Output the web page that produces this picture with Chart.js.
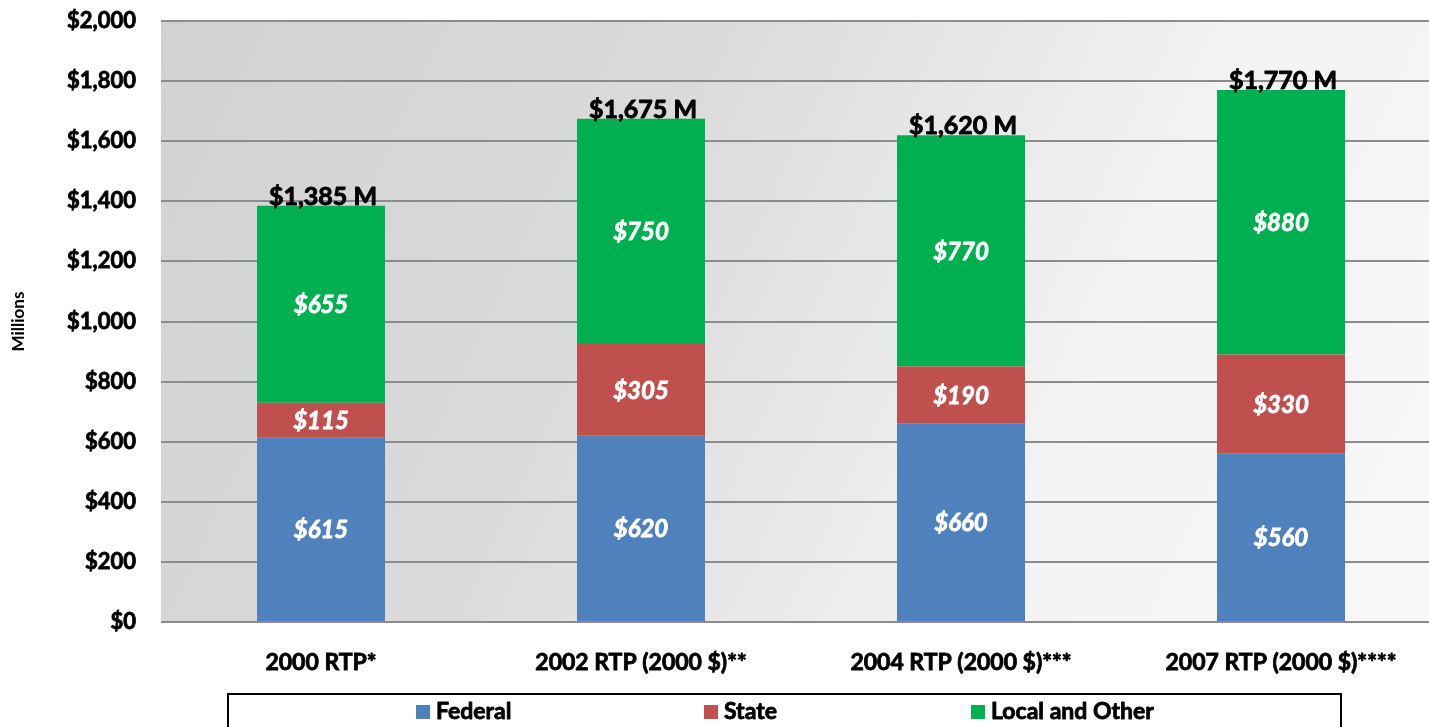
<!DOCTYPE html>
<html>
<head>
<meta charset="utf-8">
<script src="https://cdn.jsdelivr.net/npm/chart.js@4/dist/chart.umd.min.js"></script>
<style>
  html, body { margin: 0; padding: 0; overflow: hidden; background: #ffffff; }
  #wrap { position: relative; width: 1441px; height: 727px; }
</style>
</head>
<body>
<div id="wrap"><canvas id="c"></canvas></div>
<script>
const categories = ["2000 RTP*", "2002 RTP (2000 $)**", "2004 RTP (2000 $)***", "2007 RTP (2000 $)****"];
const federal = [615, 620, 660, 560];
const state = [115, 305, 190, 330];
const localOther = [655, 750, 770, 880];
const seriesNames = ["Federal", "State", "Local and Other"];
const seriesColors = ["#4f81bd", "#c0504d", "#00b050"];
const yTickValues = [0, 200, 400, 600, 800, 1000, 1200, 1400, 1600, 1800, 2000];

const FONT = "Lato, 'Open Sans', sans-serif";
const fmt = v => '$' + v.toLocaleString('en-US');

function heavyText(ctx, text, x, y, color, sw) {
  ctx.fillStyle = color;
  ctx.strokeStyle = color;
  ctx.lineWidth = sw;
  ctx.lineJoin = 'round';
  ctx.strokeText(text, x, y);
  ctx.fillText(text, x, y);
}

const bgPlugin = {
  id: 'bgPlugin',
  beforeDraw(chart) {
    const {ctx, chartArea: a} = chart;
    const g = ctx.createLinearGradient(a.left, a.top, a.right, a.bottom);
    g.addColorStop(0, '#d2d2d2');
    g.addColorStop(0.35, '#dadada');
    g.addColorStop(0.7, '#f3f3f3');
    g.addColorStop(1, '#f8f8f8');
    ctx.save();
    ctx.fillStyle = g;
    ctx.fillRect(a.left, a.top, a.right - a.left, a.bottom - a.top);
    ctx.restore();
  }
};

const labelPlugin = {
  id: 'labelPlugin',
  afterDatasetsDraw(chart) {
    const ctx = chart.ctx;
    ctx.save();
    ctx.textAlign = 'center';
    chart.data.datasets.forEach((ds, di) => {
      const meta = chart.getDatasetMeta(di);
      meta.data.forEach((el, i) => {
        ctx.font = "italic bold 24px " + FONT;
        ctx.textBaseline = 'middle';
        heavyText(ctx, fmt(ds.data[i]), el.x, (el.y + el.base) / 2 + 1, '#ffffff', 0.8);
      });
    });
    const last = chart.getDatasetMeta(chart.data.datasets.length - 1);
    last.data.forEach((el, i) => {
      const total = chart.data.datasets.reduce((s, ds) => s + ds.data[i], 0);
      ctx.font = "bold 25px " + FONT;
      ctx.textBaseline = 'alphabetic';
      heavyText(ctx, fmt(total) + ' M', el.x + 2, el.y - 1, '#000000', 0.9);
    });
    ctx.restore();
  }
};

const legendPlugin = {
  id: 'legendPlugin',
  afterDraw(chart) {
    const ctx = chart.ctx;
    ctx.save();
    ctx.strokeStyle = '#000000';
    ctx.lineWidth = 2;
    ctx.strokeRect(228, 694, 1341 - 228, 60);
    const xs = [416, 704, 971];
    ctx.font = "bold 23px " + FONT;
    ctx.textBaseline = 'middle';
    ctx.textAlign = 'left';
    chart.data.datasets.forEach((ds, i) => {
      ctx.fillStyle = ds.backgroundColor;
      ctx.fillRect(xs[i], 705, 14, 14);
      heavyText(ctx, ds.label, xs[i] + 20, 712, '#000000', 0.8);
    });
    ctx.restore();
  }
};

new Chart(document.getElementById('c'), {
  type: 'bar',
  data: {
    labels: categories,
    datasets: [
      { label: seriesNames[0], data: federal, backgroundColor: seriesColors[0] },
      { label: seriesNames[1], data: state, backgroundColor: seriesColors[1] },
      { label: seriesNames[2], data: localOther, backgroundColor: seriesColors[2] }
    ]
  },
  options: {
    responsive: true,
    maintainAspectRatio: false,
    animation: false,
    layout: { padding: { top: 21, right: 0, left: 0, bottom: 0 } },
    datasets: { bar: { categoryPercentage: 1.0, barPercentage: 0.4 } },
    plugins: { legend: { display: false }, tooltip: { enabled: false } },
    scales: {
      x: {
        stacked: true,
        grid: { display: false, drawTicks: false },
        border: { display: false },
        ticks: { color: '#000', font: { family: FONT, weight: 'bold', size: 23 }, padding: 27, maxRotation: 0, textStrokeColor: '#000', textStrokeWidth: 0.8 },
        afterFit(scale) { scale.height = 105; scale.paddingLeft = 0; scale.paddingRight = 0; }
      },
      y: {
        stacked: true,
        min: 0, max: 2000,
        afterBuildTicks(scale) { scale.ticks = yTickValues.map(v => ({ value: v })); },
        grid: { color: '#8c8c8c', lineWidth: 2, drawTicks: false },
        border: { display: false },
        ticks: { color: '#000', font: { family: FONT, weight: 'bold', size: 22 }, padding: 25, callback: v => fmt(v), textStrokeColor: '#000', textStrokeWidth: 0.8 },
        title: { display: true, text: 'Millions', color: '#000', font: { family: FONT, weight: 'bold', size: 17 }, padding: { top: 8, bottom: 0 } },
        afterFit(scale) { scale.width = 161; scale.paddingTop = 0; scale.paddingBottom = 0; }
      }
    }
  },
  plugins: [bgPlugin, labelPlugin, legendPlugin]
});
</script>
</body>
</html>
